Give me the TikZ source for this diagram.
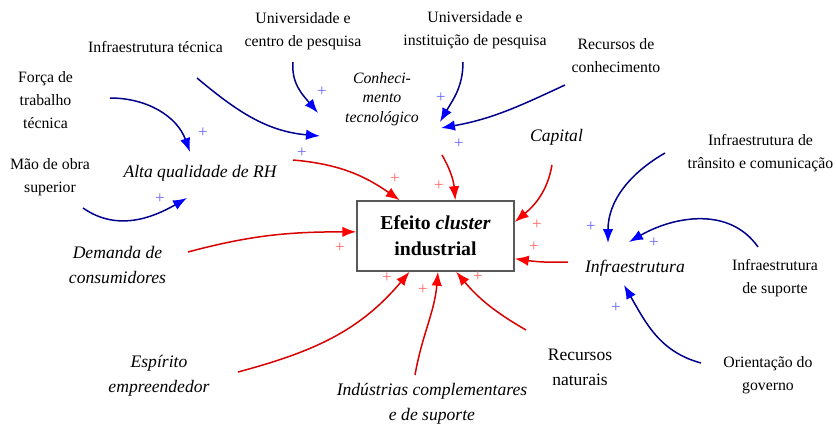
\documentclass[tikz,border=0pt]{standalone}
\usepackage{fontspec}
\setmainfont{Liberation Serif}
\usetikzlibrary{arrows.meta}

\tikzset{
  lbl/.style={align=center, inner sep=1pt, font=\fontsize{15.8}{23}\selectfont},
  var/.style={align=center, inner sep=1pt, font=\fontsize{17.6}{25}\selectfont\itshape},
  infl/.style={draw=blue!55!black, line width=1.5pt, -{Latex[length=14pt,width=10.5pt,color=blue]}},
  efe/.style={draw=red!85!black, line width=1.5pt, -{Latex[length=14pt,width=10.5pt,color=red]}},
  polb/.style={text=blue!60, inner sep=0pt, font=\fontsize{17}{17}\selectfont},
  polr/.style={text=red!60, inner sep=0pt, font=\fontsize{17}{17}\selectfont},
}

\begin{document}
\begin{tikzpicture}[x=1pt, y=1pt]
\useasboundingbox (0,0) rectangle (836,424);

% central variable
\node[draw=gray!70!black, line width=1.5pt, fill=white, minimum width=157pt, minimum height=70pt,
      align=center, font=\fontsize{19.7}{26}\selectfont\bfseries] (efeito) at (435.5,188)
      {Efeito \textit{cluster}\\industrial};

% external factors
\node[lbl] (ucp)  at (303,393)   {Universidade e\\centro de pesquisa};
\node[lbl] (uip)  at (475,394)   {Universidade e\\instituição de pesquisa};
\node[lbl] (itec) at (155.5,377) {Infraestrutura técnica};
\node[lbl] (rcon) at (616,368.5) {Recursos de\\conhecimento};
\node[lbl] (ftt)  at (45.5,324)  {Força de\\trabalho\\técnica};
\node[lbl] (mos)  at (50,247)    {Mão de obra\\superior};
\node[lbl] (itc)  at (760.5,271) {Infraestrutura de\\trânsito e comunicação};
\node[lbl] (isup) at (775,146)   {Infraestrutura\\de suporte};
\node[lbl] (ogov) at (768,49)    {Orientação do\\governo};
\node[lbl, font=\fontsize{17.5}{25}\selectfont] (rnat) at (580,56.5) {Recursos\\naturais};

% intermediate variables
\node[var, font=\fontsize{15.8}{19.5}\selectfont\itshape] (ctec) at (382,325) {Conheci-\\mento\\tecnológico};
\node[var] (aqrh)  at (200,251)   {Alta qualidade de RH};
\node[var] (cap)   at (556.5,287) {Capital};
\node[var] (infra) at (635,156)   {Infraestrutura};
\node[var] (dcon)  at (117.5,159) {Demanda de\\consumidores};
\node[var] (esp)   at (159,48)    {Espírito\\empreendedor};
\node[var] (icom)  at (432,20)    {Indústrias complementares\\e de suporte};

% blue links
\draw[infl] ([shift={(64.5,2)}]ftt.center) to[out=0, in=110] ([shift={(-10,21)}]aqrh.center);
\draw[infl] ([shift={(41.5,-31)}]itec.center) to[out=-40, in=175] ([shift={(-62,-37)}]ctec.center);
\draw[infl] ([shift={(-10,-31)}]ucp.center) to[out=-95, in=130] ([shift={(-64,-14)}]ctec.center);
\draw[infl] ([shift={(-12,-32)}]uip.center) to[out=-90, in=60] ([shift={(58,-23)}]ctec.center);
\draw[infl] ([shift={(-51,-29.5)}]rcon.center) to[out=205, in=10] ([shift={(59,-29)}]ctec.center);
\draw[infl] ([shift={(33,-31)}]mos.center) to[out=-35, in=-150] ([shift={(-13,-25)}]aqrh.center);
\draw[infl] ([shift={(-95.5,0)}]itc.center) to[out=210, in=90] ([shift={(-27,25)}]infra.center);
\draw[infl] ([shift={(-17,31)}]isup.center) to[out=125, in=30] ([shift={(-6,26)}]infra.center);
\draw[infl] ([shift={(-67,12)}]ogov.center) to[out=165, in=-60] ([shift={(-11,-17)}]infra.center);

% red links
\draw[efe] ([shift={(93,13)}]aqrh.center) to[out=-5, in=145] (efeito.135);
\draw[efe] ([shift={(60,-56)}]ctec.center) to[out=-60, in=95] (efeito.61);
\draw[efe] ([shift={(-4.5,-28)}]cap.center) to[out=-100, in=40] (efeito.10);
\draw[efe] ([shift={(-67,6)}]infra.center) to[out=182, in=-8] (efeito.-16);
\draw[efe] ([shift={(70.5,13)}]dcon.center) to[out=15, in=180] (efeito.177);
\draw[efe] ([shift={(79,4)}]esp.center) to[out=15, in=-130] (efeito.-126);
\draw[efe] ([shift={(-17,29)}]icom.center) to[out=80, in=-95] (efeito.-86);
\draw[efe] ([shift={(-54,37.5)}]rnat.center) to[out=150, in=-50] (efeito.-60);

% polarities
\foreach \px/\py [count=\i] in {203/291, 322/332, 302/271, 160/225, 441/326, 459/280, 591/197, 654/181, 616/116}
  \node[polb] (pb\i) at (\px,\py) {+};
\foreach \px/\py [count=\i] in {395/245, 439/238, 537/199, 534/177, 340/176, 387/146, 423/134, 478/147}
  \node[polr] (pr\i) at (\px,\py) {+};
\end{tikzpicture}
\end{document}
